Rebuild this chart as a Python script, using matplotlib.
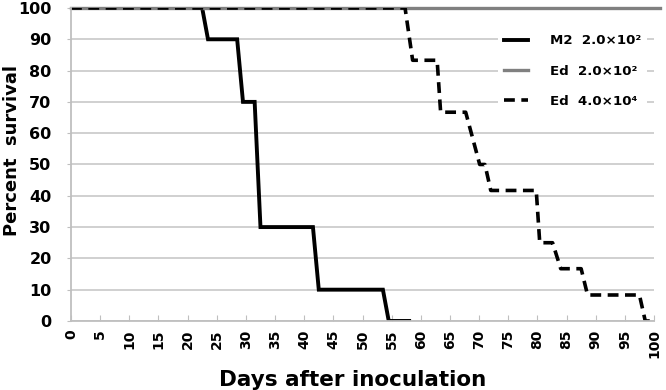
import matplotlib
matplotlib.use('Agg')
import matplotlib.pyplot as plt

plt.rcParams['font.family'] = ['DejaVu Sans']
plt.rcParams['font.weight'] = 'bold'

# survival curves (days, percent)
m2_days = [0, 22.5, 23.5, 28.5, 29.5, 31.5, 32.5, 41.5, 42.5, 53.5, 54.5, 58]
m2_surv = [100, 100, 90, 90, 70, 70, 30, 30, 10, 10, 0, 0]

ed_low_days = [0, 101]
ed_low_surv = [100, 100]

ed_high_days = [0, 57.3, 58.6, 62.8, 63.4, 67.7, 70.1, 71, 72, 79.8, 80.4, 82.6,
                84, 87.5, 88.6, 97.5, 98.5, 99.8]
ed_high_surv = [100, 100, 83.3, 83.3, 66.7, 66.7, 50, 50, 41.7, 41.7, 25, 25,
                16.7, 16.7, 8.3, 8.3, 0, 0]

labels = ['M2  2.0\u00d710\u00b2', 'Ed  2.0\u00d710\u00b2', 'Ed  4.0\u00d710\u2074']

fig = plt.figure(figsize=(6.66, 3.9), dpi=100)
ax = fig.add_axes([0.1066, 0.177, 0.8754, 0.8025])

ax.plot(m2_days, m2_surv, color='black', lw=2.8, label=labels[0], solid_joinstyle='miter')
ax.plot(ed_low_days, ed_low_surv, color='#808080', lw=2.4, label=labels[1], clip_on=False)
ax.plot(ed_high_days, ed_high_surv, color='black', lw=2.6, dashes=(3.0, 1.8), label=labels[2])

ax.set_xlim(0, 100)
ax.set_ylim(0, 100)
ax.set_xticks(range(0, 101, 5))
ax.set_yticks(range(0, 101, 10))
ax.tick_params(axis='x', direction='in', length=4, color='#bfbfbf', labelsize=10, labelrotation=90, pad=6)
ax.tick_params(axis='y', direction='out', length=3, color='#bfbfbf', labelsize=11.5, pad=11)
ax.grid(axis='y', color='#c4c4c4', lw=1.1)
ax.set_axisbelow(True)
for s in ['top', 'right']:
    ax.spines[s].set_visible(False)
for s in ['left', 'bottom']:
    ax.spines[s].set_color('#bfbfbf')
    ax.spines[s].set_linewidth(1.3)

ax.set_xlabel('Days after inoculation', fontsize=15.5, fontweight='bold')
ax.xaxis.set_label_coords(0.483, -0.158)
ax.set_ylabel('Percent  survival', fontsize=13, fontweight='bold')
ax.yaxis.set_label_coords(-0.085, 0.545)

leg = ax.legend(loc='upper right', bbox_to_anchor=(0.988, 0.935), frameon=True,
                facecolor='white', edgecolor='none', framealpha=1, fancybox=False,
                borderpad=0.45, borderaxespad=0,
                fontsize=9.6, handlelength=1.85, labelspacing=1.3, handletextpad=1.6)

fig.savefig('out.png', dpi=100)
